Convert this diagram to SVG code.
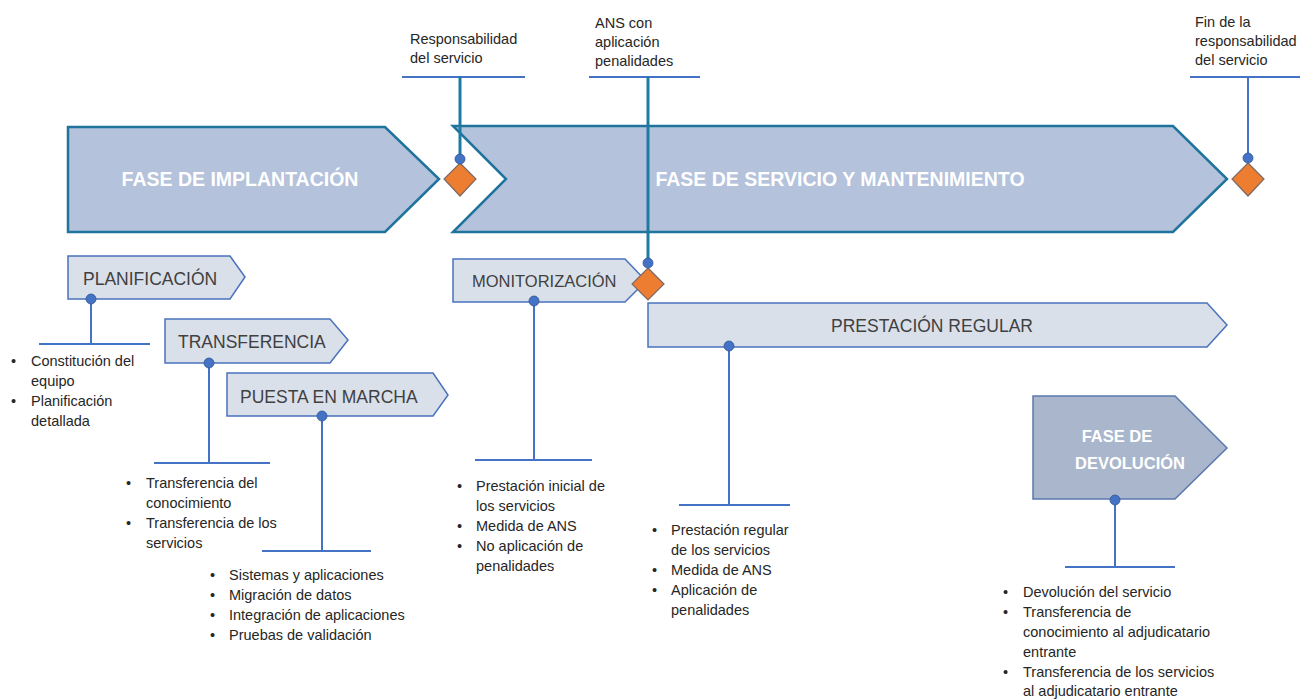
<svg xmlns="http://www.w3.org/2000/svg" width="1303" height="699" viewBox="0 0 1303 699">
<style>
.big{fill:#b4c2dc;stroke:#1f739c;stroke-width:2.5}
.box{fill:#dae0ea;stroke:#4a72bd;stroke-width:1.5}
.dev{fill:#a9b6cc;stroke:#5a78b0;stroke-width:1.5}
.dia{fill:#ed7d31;stroke:#7a6a66;stroke-width:1.2}
.dot{fill:#4472c4;stroke:#2f5597;stroke-width:0.8}
.ln{stroke:#4472c4;stroke-width:2;fill:none}
.tl{stroke:#1f7aa3;stroke-width:3;fill:none}
.bt{font-family:"Liberation Sans",Arial,sans-serif;font-weight:bold;fill:#ffffff}
.lb{font-family:"Liberation Sans",Arial,sans-serif;fill:#404040}
.tx{font-family:"Liberation Sans",Arial,sans-serif;font-size:14.5px;fill:#262626}
</style>
<rect width="1303" height="699" fill="#ffffff"/>

<g id="fase-implantacion">
<polygon class="big" points="68,127 385,127 439,179 385,232 68,232"/>
<text class="bt" x="240" y="186" font-size="19.5" text-anchor="middle">FASE DE IMPLANTACIÓN</text>
</g>

<g id="fase-servicio">
<polygon class="big" points="453,126 1173,126 1227,179 1173,232 453,232 506,179"/>
<text class="bt" x="840" y="186" font-size="19.5" text-anchor="middle">FASE DE SERVICIO Y MANTENIMIENTO</text>
</g>

<g id="planificacion">
<polygon class="box" points="68,256 230,256 245,277 230,299 68,299"/>
<text class="lb" x="83" y="285" font-size="17.5">PLANIFICACIÓN</text>
</g>

<g id="transferencia">
<polygon class="box" points="165,319 330,319 348,340 330,363 165,363"/>
<text class="lb" x="178" y="348" font-size="17.5">TRANSFERENCIA</text>
</g>

<g id="puesta-en-marcha">
<polygon class="box" points="227,373 433,373 448,395 433,416 227,416"/>
<text class="lb" x="240" y="403" font-size="17.5">PUESTA EN MARCHA</text>
</g>

<g id="monitorizacion">
<polygon class="box" points="453,259 625,259 646,281 625,302 453,302"/>
<text class="lb" x="472" y="287" font-size="16.5">MONITORIZACIÓN</text>
</g>

<g id="prestacion-regular">
<polygon class="box" points="648,303 1207,303 1227,325 1207,347 648,347"/>
<text class="lb" x="932" y="332" font-size="17.5" text-anchor="middle">PRESTACIÓN REGULAR</text>
</g>

<g id="fase-devolucion">
<polygon class="dev" points="1033,396 1175,396 1227,448 1175,499 1033,499"/>
<text class="bt" x="1117" y="442" font-size="16.5" text-anchor="middle">FASE DE</text>
<text class="bt" x="1130" y="469" font-size="16.5" text-anchor="middle">DEVOLUCIÓN</text>
</g>

<g id="connectors">
<!-- milestone lines -->
<line class="ln" x1="402" y1="77" x2="525" y2="77"/>
<line class="tl" x1="460" y1="77" x2="460" y2="158"/>
<line class="ln" x1="589" y1="77" x2="700" y2="77"/>
<line class="tl" x1="648" y1="77" x2="648" y2="262"/>
<line class="ln" x1="1190" y1="77" x2="1300" y2="77"/>
<line class="ln" x1="1248" y1="77" x2="1248" y2="158"/>
<!-- detail lines -->
<line class="ln" x1="91" y1="299" x2="91" y2="344"/>
<line class="ln" x1="39" y1="344" x2="150" y2="344"/>
<line class="ln" x1="209" y1="363" x2="209" y2="463"/>
<line class="ln" x1="154" y1="463" x2="270" y2="463"/>
<line class="ln" x1="322" y1="416" x2="322" y2="551"/>
<line class="ln" x1="262" y1="551" x2="371" y2="551"/>
<line class="ln" x1="534" y1="301" x2="534" y2="460"/>
<line class="ln" x1="475" y1="460" x2="592" y2="460"/>
<line class="ln" x1="729" y1="346" x2="729" y2="505"/>
<line class="ln" x1="679" y1="505" x2="790" y2="505"/>
<line class="ln" x1="1115" y1="500" x2="1115" y2="567"/>
<line class="ln" x1="1065" y1="567" x2="1175" y2="567"/>
<!-- diamonds and dots -->
<polygon class="dia" points="460,163 476,179 460,196 444,179"/>
<polygon class="dia" points="648,268 664,284 648,300 632,284"/>
<polygon class="dia" points="1248,163 1264,179 1248,196 1232,179"/>
<circle class="dot" cx="460" cy="159" r="5"/>
<circle class="dot" cx="648" cy="263" r="5"/>
<circle class="dot" cx="1248" cy="158" r="5"/>
<circle class="dot" cx="91" cy="299" r="5"/>
<circle class="dot" cx="209" cy="363" r="5"/>
<circle class="dot" cx="322" cy="416" r="5"/>
<circle class="dot" cx="534" cy="301" r="5"/>
<circle class="dot" cx="729" cy="346" r="5"/>
<circle class="dot" cx="1115" cy="500" r="5"/>
</g>

<g id="milestone-labels" class="tx" font-size="15">
<text x="410" y="44" style="font-size:14.5px">Responsabilidad</text>
<text x="410" y="63" style="font-size:14.5px">del servicio</text>
<text x="595" y="28" style="font-size:14.5px">ANS con</text>
<text x="595" y="47" style="font-size:14.5px">aplicación</text>
<text x="595" y="66" style="font-size:14.5px">penalidades</text>
<text x="1195" y="27" style="font-size:14.5px">Fin de la</text>
<text x="1195" y="46" style="font-size:14.5px">responsabilidad</text>
<text x="1195" y="65" style="font-size:14.5px">del servicio</text>
</g>

<g id="bullets-planificacion" class="tx">
<text x="11" y="366">•</text><text x="31" y="366">Constitución del</text>
<text x="31" y="386">equipo</text>
<text x="11" y="406">•</text><text x="31" y="406">Planificación</text>
<text x="31" y="426">detallada</text>
</g>

<g id="bullets-transferencia" class="tx">
<text x="126" y="488">•</text><text x="146" y="488">Transferencia del</text>
<text x="146" y="508">conocimiento</text>
<text x="126" y="528">•</text><text x="146" y="528">Transferencia de los</text>
<text x="146" y="548">servicios</text>
</g>

<g id="bullets-puesta" class="tx">
<text x="210" y="580">•</text><text x="229" y="580">Sistemas y aplicaciones</text>
<text x="210" y="600">•</text><text x="229" y="600">Migración de datos</text>
<text x="210" y="620">•</text><text x="229" y="620">Integración de aplicaciones</text>
<text x="210" y="640">•</text><text x="229" y="640">Pruebas de validación</text>
</g>

<g id="bullets-monitorizacion" class="tx">
<text x="457" y="491">•</text><text x="476" y="491">Prestación inicial de</text>
<text x="476" y="511">los servicios</text>
<text x="457" y="531">•</text><text x="476" y="531">Medida de ANS</text>
<text x="457" y="551">•</text><text x="476" y="551">No aplicación de</text>
<text x="476" y="571">penalidades</text>
</g>

<g id="bullets-prestacion" class="tx">
<text x="652" y="535">•</text><text x="671" y="535">Prestación regular</text>
<text x="671" y="555">de los servicios</text>
<text x="652" y="575">•</text><text x="671" y="575">Medida de ANS</text>
<text x="652" y="595">•</text><text x="671" y="595">Aplicación de</text>
<text x="671" y="615">penalidades</text>
</g>

<g id="bullets-devolucion" class="tx">
<text x="1003" y="597">•</text><text x="1023" y="597">Devolución del servicio</text>
<text x="1003" y="617">•</text><text x="1023" y="617">Transferencia de</text>
<text x="1023" y="637">conocimiento al adjudicatario</text>
<text x="1023" y="657">entrante</text>
<text x="1003" y="677">•</text><text x="1023" y="677">Transferencia de los servicios</text>
<text x="1023" y="696">al adjudicatario entrante</text>
</g>
</svg>
